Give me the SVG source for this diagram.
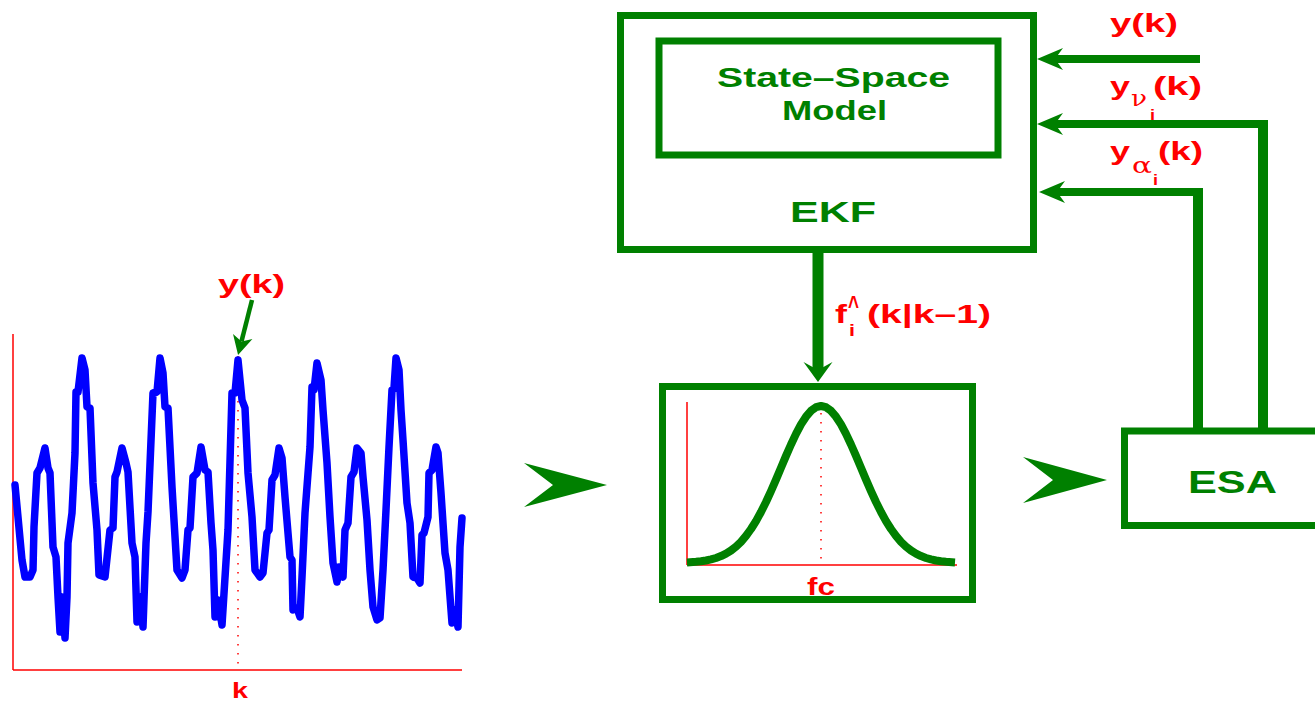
<svg xmlns="http://www.w3.org/2000/svg" width="1315" height="701" viewBox="0 0 1315 701">
<style>
.box{fill:none;stroke:#008000;stroke-width:7}
.gt{font-family:"Liberation Sans",Arial,sans-serif;font-weight:bold;fill:#008000}
.rt{font-family:"Liberation Sans",Arial,sans-serif;font-weight:bold;fill:#ff0000}
.gk{font-family:"DejaVu Serif","Liberation Serif",serif;font-weight:normal;fill:#ff0000}
.axis{stroke:#ff0000;stroke-width:1.5;fill:none}
.dot{stroke:#ff0000;stroke-width:1.5;stroke-dasharray:1.5 7.5;fill:none}
.conn{stroke:#008000;fill:none}
</style>
<defs>
<marker id="arrH" markerUnits="userSpaceOnUse" viewBox="-12 -14 34 28" refX="0" refY="0" markerWidth="34" markerHeight="28" orient="auto">
<path d="M18,0 L-8,-11 L0,0 L-8,11 Z" fill="#008000"/>
</marker>
<marker id="arrV" markerUnits="userSpaceOnUse" viewBox="-12 -18 28 36" refX="0" refY="0" markerWidth="28" markerHeight="36" orient="auto">
<path d="M12,0 L-8,-14.5 L0,0 L-8,14.5 Z" fill="#008000"/>
</marker>
<marker id="arrS" markerUnits="userSpaceOnUse" viewBox="-8 -12 26 24" refX="0" refY="0" markerWidth="26" markerHeight="24" orient="auto">
<path d="M14,0 L-5,-10 L0,0 L-5,10 Z" fill="#008000"/>
</marker>
</defs>
<rect width="1315" height="701" fill="#ffffff"/>

<g id="signal-plot">
<line class="axis" x1="13" y1="334" x2="13" y2="670"/>
<line class="axis" x1="13" y1="670" x2="462" y2="670"/>
<line class="dot" x1="238" y1="356" x2="238" y2="670"/>
<polyline fill="none" stroke="#0000ff" stroke-width="7.5" stroke-linejoin="round" stroke-linecap="round" points="15,485 22,560 25,577 30,577 33,570 34,527 37,473 40,468 45,448 48,468 50,473 53,547 56,557 58,597 60,632 62,597 65,638 67,597 68,543 72,513 75,453 76,392 78,392 82,358 85,370 87,407 90,408 93,483 97,530 99,575 105,577 110,530 113,528 115,477 117,472 122,448 126,463 128,472 132,543 135,557 137,622 140,597 143,627 146,543 148,512 153,393 157,392 160,358 163,373 165,407 168,408 172,487 177,570 182,578 185,570 188,530 190,528 193,477 197,473 201,447 205,470 208,472 211,523 213,550 215,617 218,600 222,625 228,530 232,393 235,393 238,360 242,400 245,408 248,473 252,517 255,570 260,577 263,573 267,533 269,530 272,480 275,475 279,448 282,458 285,497 290,557 292,560 293,610 297,608 300,617 302,577 305,513 310,447 312,387 314,390 317,363 321,380 323,410 327,463 330,517 333,563 337,582 339,567 343,577 345,530 348,523 351,477 354,472 357,448 361,453 363,477 367,520 370,570 373,607 377,620 380,618 383,570 386,510 389,447 392,390 394,388 396,358 399,370 401,410 403,440 407,503 410,523 413,577 417,578 420,583 422,535 424,533 428,517 429,473 432,470 436,447 438,453 441,493 445,553 448,570 452,623 455,610 458,627 460,547 462,518"/>
<text class="rt" x="218" y="293" font-size="26" textLength="67" lengthAdjust="spacingAndGlyphs">y(k)</text>
<text class="rt" x="232" y="698" font-size="22" textLength="16" lengthAdjust="spacingAndGlyphs">k</text>
</g>

<g id="ekf">
<rect class="box" x="620.5" y="15.5" width="413" height="234"/>
<text class="gt" x="790" y="222" font-size="30" textLength="86" lengthAdjust="spacingAndGlyphs">EKF</text>
</g>

<g id="state-space-model">
<rect class="box" x="659" y="41" width="339" height="114" stroke-width="6.5"/>
<text class="gt" x="717" y="87" font-size="28" textLength="233" lengthAdjust="spacingAndGlyphs">State–Space</text>
<text class="gt" x="782" y="120" font-size="27" textLength="105" lengthAdjust="spacingAndGlyphs">Model</text>
</g>

<g id="spectrum">
<rect class="box" x="662.5" y="386.5" width="310" height="213"/>
<line class="axis" x1="687" y1="402" x2="687" y2="565"/>
<line class="axis" x1="687" y1="565" x2="957" y2="565"/>
<line class="dot" x1="821" y1="404" x2="821" y2="565"/>
<polyline fill="none" stroke="#008000" stroke-width="8" stroke-linejoin="round" points="687,562.4 696,561.8 701,561.3 706,560.5 711,559.4 716,558 721,556.1 726,553.6 731,550.5 736,546.6 741,541.8 746,535.9 751,529 756,521.1 761,512 766,502 771,491.1 776,479.6 781,467.8 786,455.9 791,444.5 796,433.9 801,424.4 806,416.7 811,410.8 816,407.2 821,406 826,407.2 831,410.8 836,416.7 841,424.4 846,433.9 851,444.5 856,455.9 861,467.8 866,479.6 871,491.1 876,502 881,512 886,521.1 891,529 896,535.9 901,541.8 906,546.6 911,550.5 916,553.6 921,556.1 926,558 931,559.4 936,560.5 941,561.3 946,561.8 955,562.4"/>
<text class="rt" x="807" y="595" font-size="23" textLength="28" lengthAdjust="spacingAndGlyphs">fc</text>
</g>

<g id="esa">
<rect class="box" x="1124.5" y="431" width="200" height="94.5"/>
<text class="gt" x="1188" y="493" font-size="31" textLength="89" lengthAdjust="spacingAndGlyphs">ESA</text>
</g>

<g id="connectors">
<line class="conn" x1="252" y1="300" x2="241.5" y2="341.4" stroke-width="4.5" marker-end="url(#arrS)"/>
<polygon points="524,463 607,485 524,507 553,485" fill="#008000"/>
<polygon points="1023,457 1107,480 1023,503 1053,480" fill="#008000"/>
<line class="conn" x1="818" y1="253" x2="818" y2="370" stroke-width="11" marker-end="url(#arrV)"/>
<line class="conn" x1="1200" y1="59" x2="1055" y2="59" stroke-width="8" marker-end="url(#arrH)"/>
<line class="conn" x1="1263" y1="120" x2="1263" y2="431" stroke-width="10"/>
<line class="conn" x1="1268" y1="124" x2="1055" y2="124" stroke-width="8" marker-end="url(#arrH)"/>
<line class="conn" x1="1198" y1="188" x2="1198" y2="431" stroke-width="10"/>
<line class="conn" x1="1203" y1="192" x2="1057" y2="192" stroke-width="8" marker-end="url(#arrH)"/>
</g>

<g id="labels">
<text class="rt" x="1110" y="32" font-size="26" textLength="68" lengthAdjust="spacingAndGlyphs">y(k)</text>
<text class="rt" x="1110" y="95" font-size="26" textLength="20" lengthAdjust="spacingAndGlyphs">y</text>
<text class="gk" x="1131" y="106" font-size="22" textLength="16" lengthAdjust="spacingAndGlyphs">ν</text>
<text class="rt" x="1150" y="120" font-size="15" textLength="5" lengthAdjust="spacingAndGlyphs">i</text>
<text class="rt" x="1153" y="95" font-size="26" textLength="49" lengthAdjust="spacingAndGlyphs">(k)</text>
<text class="rt" x="1110" y="160" font-size="26" textLength="20" lengthAdjust="spacingAndGlyphs">y</text>
<text class="gk" x="1132" y="173" font-size="22" textLength="20" lengthAdjust="spacingAndGlyphs">α</text>
<text class="rt" x="1153" y="185" font-size="15" textLength="5" lengthAdjust="spacingAndGlyphs">i</text>
<text class="rt" x="1158" y="160" font-size="26" textLength="45" lengthAdjust="spacingAndGlyphs">(k)</text>
<text class="rt" x="835" y="323" font-size="26" textLength="12" lengthAdjust="spacingAndGlyphs">f</text>
<text class="rt" x="848" y="315" font-size="28" textLength="11" lengthAdjust="spacingAndGlyphs">^</text>
<text class="rt" x="849" y="336" font-size="16" textLength="6" lengthAdjust="spacingAndGlyphs">i</text>
<text class="rt" x="867" y="323" font-size="26" textLength="124" lengthAdjust="spacingAndGlyphs">(k|k–1)</text>
</g>
</svg>
